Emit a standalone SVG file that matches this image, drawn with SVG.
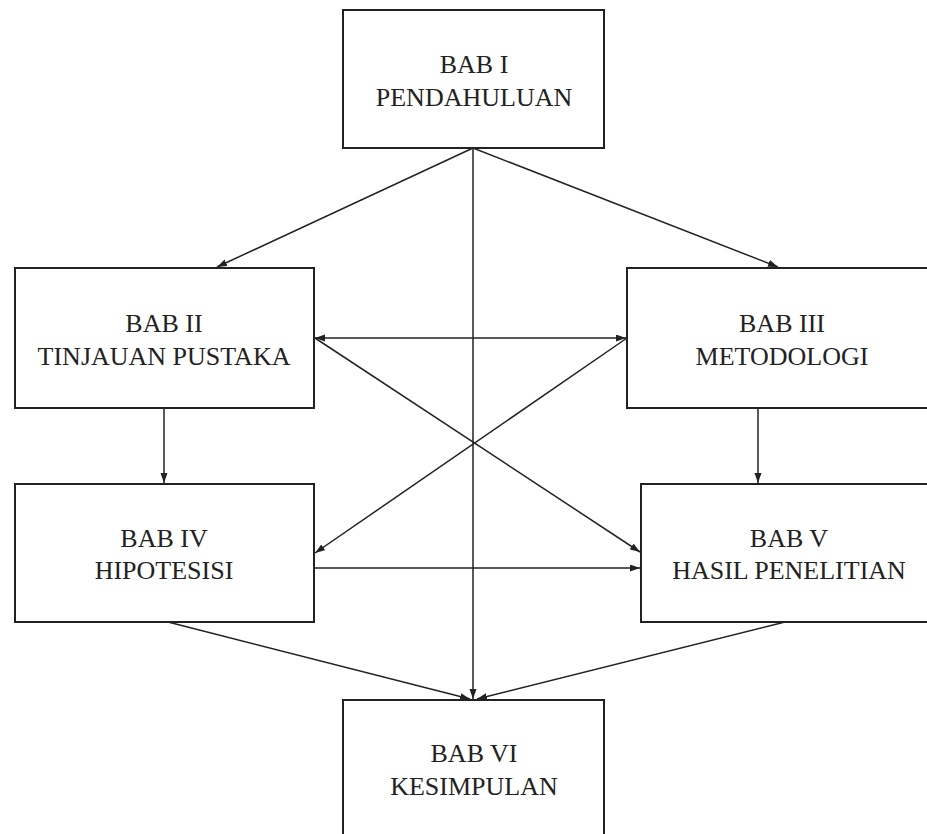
<svg xmlns="http://www.w3.org/2000/svg" width="927" height="834" viewBox="0 0 927 834">
<style>
.box{fill:#fff;stroke:#222;stroke-width:2}
.t{font-family:"Liberation Serif","Times New Roman",serif;font-size:26px;fill:#222;text-anchor:middle}
.c{stroke:#222;stroke-width:1.5;fill:none;marker-end:url(#ah)}
.d{marker-start:url(#ah)}
</style>
<defs>
<marker id="ah" markerUnits="userSpaceOnUse" markerWidth="11" markerHeight="8" refX="10" refY="3.5" orient="auto-start-reverse">
<path d="M0,0 L10,3.5 L0,7 z" fill="#222"/>
</marker>
</defs>
<rect width="927" height="834" fill="#fff"/>
<g id="connectors">
<line class="c" x1="473" y1="148" x2="217" y2="267"/>
<line class="c" x1="473" y1="148" x2="778" y2="267"/>
<line class="c" x1="473" y1="148" x2="473" y2="699"/>
<line class="c d" x1="315" y1="338" x2="626" y2="338"/>
<line class="c" x1="315" y1="338" x2="640" y2="552"/>
<line class="c" x1="627" y1="338" x2="315" y2="553"/>
<line class="c" x1="164" y1="408" x2="164" y2="483"/>
<line class="c" x1="758" y1="408" x2="758" y2="483"/>
<line class="c" x1="314" y1="568" x2="640" y2="568"/>
<line class="c" x1="168" y1="622" x2="470" y2="699"/>
<line class="c" x1="785" y1="622" x2="477" y2="699"/>
</g>
<g id="bab1">
<rect class="box" x="343" y="10" width="261" height="138"/>
<text class="t" x="474" y="73">BAB I</text>
<text class="t" x="474" y="106">PENDAHULUAN</text>
</g>
<g id="bab2">
<rect class="box" x="15" y="268" width="299" height="140"/>
<text class="t" x="164" y="332">BAB II</text>
<text class="t" x="164" y="365">TINJAUAN PUSTAKA</text>
</g>
<g id="bab3">
<rect class="box" x="627" y="268" width="311" height="140"/>
<text class="t" x="782" y="332">BAB III</text>
<text class="t" x="782" y="365">METODOLOGI</text>
</g>
<g id="bab4">
<rect class="box" x="15" y="484" width="299" height="138"/>
<text class="t" x="164" y="547">BAB IV</text>
<text class="t" x="164" y="579">HIPOTESISI</text>
</g>
<g id="bab5">
<rect class="box" x="641" y="484" width="297" height="138"/>
<text class="t" x="789" y="547">BAB V</text>
<text class="t" x="789" y="579">HASIL PENELITIAN</text>
</g>
<g id="bab6">
<rect class="box" x="343" y="700" width="261" height="150"/>
<text class="t" x="474" y="762">BAB VI</text>
<text class="t" x="474" y="795">KESIMPULAN</text>
</g>
</svg>
